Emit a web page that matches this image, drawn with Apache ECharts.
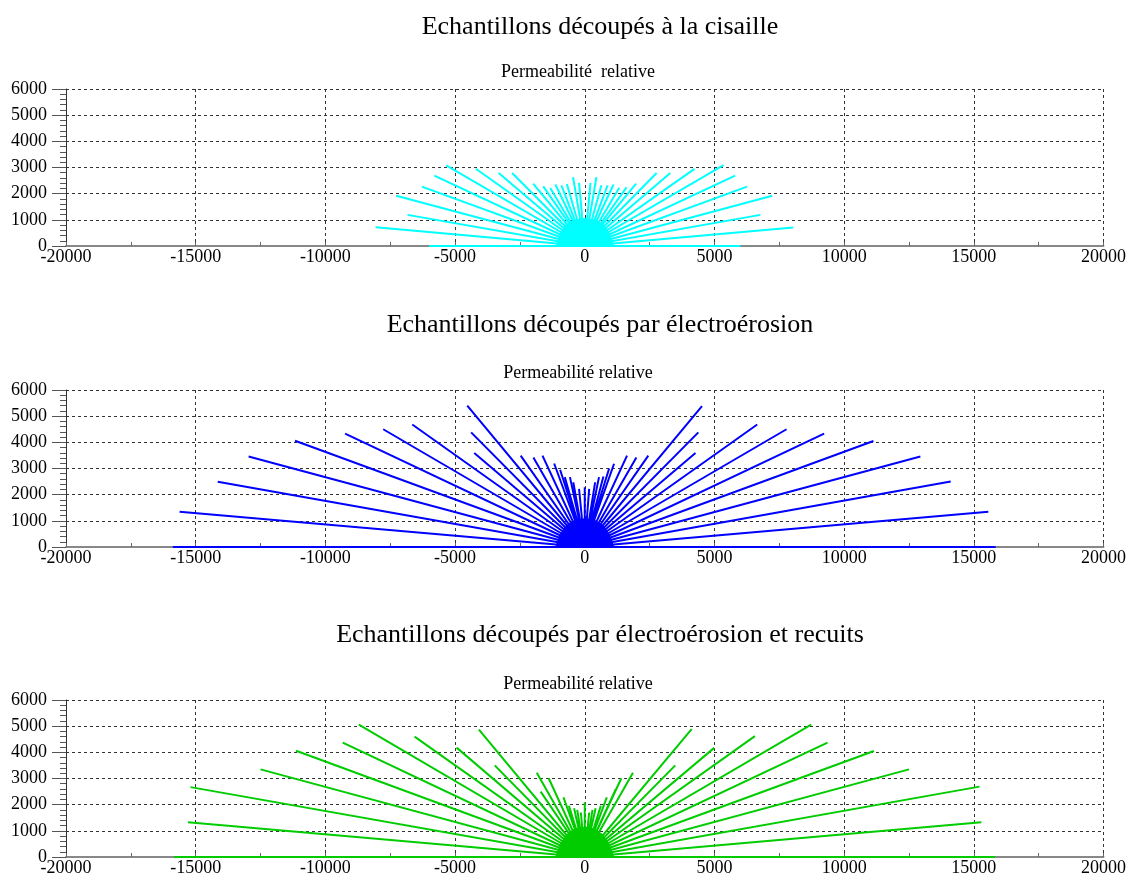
<!DOCTYPE html>
<html>
<head>
<meta charset="utf-8">
<script src="https://cdn.jsdelivr.net/npm/echarts@6/dist/echarts.min.js"></script>
<style>html,body{margin:0;padding:0;background:#fff}#c{width:1129px;height:877px}</style>
</head>
<body>
<div id="c"></div>
<script>
// ---------- texts ----------
const titles = [
  'Echantillons découpés à la cisaille',
  'Echantillons découpés par électroérosion',
  'Echantillons découpés par électroérosion et recuits'
];
const subtitles = ['Permeabilité  relative', 'Permeabilité relative', 'Permeabilité relative'];
const xTickValues = [-20000, -15000, -10000, -5000, 0, 5000, 10000, 15000, 20000];
const yTickValues = [0, 1000, 2000, 3000, 4000, 5000, 6000];

// ---------- panel 1 : cisaille (ray end points) ----------
const cisRightX = [6000, 8040, 6770, 7230, 6260, 5800, 5350, 4230, 3300, 2770, 1980, 1610, 1330, 1110, 880, 640, 450, 220];
const cisRightY = [0, 710, 1190, 1920, 2270, 2690, 3090, 2950, 2790, 2790, 2380, 2240, 2230, 2350, 2320, 2320, 2630, 2410];
const cisLeftX = [-6000, -8060, -6830, -7270, -6280, -5800, -5340, -4200, -3320, -2800, -1990, -1600, -1330, -1130, -900, -690, -450, -220];
const cisLeftY = [0, 720, 1190, 1920, 2270, 2690, 3080, 2950, 2790, 2790, 2380, 2280, 2220, 2350, 2320, 2370, 2630, 2410];
const cisCoreX = [-1100, -950, -750, -450, 0, 450, 750, 950, 1120];
const cisCoreY = [0, 450, 780, 980, 1050, 980, 780, 450, 0];

// ---------- panel 2 : électroérosion ----------
const eroRightX = [15840, 15560, 14110, 12940, 11130, 9230, 7780, 6650, 4520, 4380, 4270, 2450, 1990, 1630, 1130, 940, 720, 550, 400, 170, 0];
const eroRightY = [0, 1350, 2500, 3460, 4050, 4330, 4500, 4680, 5380, 4380, 3590, 3490, 3420, 3490, 3180, 3000, 2690, 2670, 2470, 2220, 2280];
const eroLeftX = [-15880, -15620, -14150, -12960, -11170, -9240, -7770, -6650, -4530, -4380, -4260, -2470, -1980, -1630, -1180, -950, -770, -570, -440, -220];
const eroLeftY = [0, 1350, 2490, 3460, 4060, 4330, 4500, 4680, 5400, 4380, 3590, 3490, 3420, 3490, 3190, 2950, 2670, 2670, 2470, 2220];
const eroCoreX = [-1120, -930, -700, -400, 0, 400, 700, 930, 1120];
const eroCoreY = [0, 500, 820, 1010, 1080, 1010, 820, 500, 0];

// ---------- panel 3 : électroérosion et recuits ----------
const recRightX = [15810, 15290, 15220, 12500, 11150, 9360, 8730, 6560, 4990, 4120, 3490, 1860, 1410, 1200, 850, 620, 420, 300, 170, 0];
const recRightY = [0, 1330, 2690, 3350, 4050, 4370, 5060, 4620, 4170, 4890, 3500, 3220, 3010, 2600, 2280, 1960, 1860, 1800, 1700, 2090];
const recLeftX = [-15830, -15300, -15200, -12500, -11130, -9330, -8710, -6560, -4940, -4080, -3470, -1850, -1390, -1700, -820, -610, -410, -290, -150];
const recLeftY = [0, 1330, 2670, 3350, 4060, 4370, 5060, 4600, 4180, 4870, 3500, 3220, 3010, 2500, 2280, 1960, 1860, 1800, 1700];
const recCoreX = [-1120, -930, -700, -400, 0, 400, 700, 930, 1120];
const recCoreY = [0, 500, 850, 1060, 1140, 1060, 850, 500, 0];

const colors = ['#00FFFF', '#0000FF', '#00CC00'];

// ---------- build ----------
function rays(xs1, ys1, xs2, ys2) {
  const d = [];
  for (let i = 0; i < xs1.length; i++) { d.push([0, 0]); d.push([xs1[i], ys1[i]]); }
  for (let i = 0; i < xs2.length; i++) { d.push([0, 0]); d.push([xs2[i], ys2[i]]); }
  d.push([0, 0]);
  return d;
}
function zip(xs, ys) { return xs.map((x, i) => [x, ys[i]]); }

const panels = [
  { ray: rays(cisRightX, cisRightY, cisLeftX, cisLeftY), core: zip(cisCoreX, cisCoreY) },
  { ray: rays(eroRightX, eroRightY, eroLeftX, eroLeftY), core: zip(eroCoreX, eroCoreY) },
  { ray: rays(recRightX, recRightY, recLeftX, recLeftY), core: zip(recCoreX, recCoreY) }
];

const gridTops = [89, 390, 700];
const gridH = 157;
const titleY = [27, 325, 635];
const subY = [72, 373, 684];
const FONT = '"Liberation Serif", "Times New Roman", serif';

const grids = [], xAxes = [], yAxes = [], series = [], graphics = [];
for (let p = 0; p < 3; p++) {
  grids.push({ left: 66, width: 1038, top: gridTops[p], height: gridH, containLabel: false });
  xAxes.push({
    type: 'value', gridIndex: p, min: xTickValues[0], max: xTickValues[xTickValues.length - 1], interval: 5000,
    axisLine: { show: true, onZero: false, lineStyle: { color: '#888', width: 2 } },
    axisTick: { show: true, inside: true, length: 4, lineStyle: { color: '#666' } },
    minorTick: { show: true, splitNumber: 2, length: 4, lineStyle: { color: '#666' } },
    splitLine: { show: true, lineStyle: { color: '#333', type: [3, 3], width: 1 } },
    axisLabel: { color: '#000', fontFamily: FONT, fontSize: 18, margin: 2, formatter: v => String(v) }
  });
  yAxes.push({
    type: 'value', gridIndex: p, min: yTickValues[0], max: yTickValues[yTickValues.length - 1], interval: 1000,
    axisLine: { show: true, onZero: false, lineStyle: { color: '#333', width: 1 } },
    axisTick: { show: true, inside: false, length: 14, lineStyle: { color: '#555' } },
    minorTick: { show: true, splitNumber: 5, length: 6, lineStyle: { color: '#555' } },
    splitLine: { show: true, lineStyle: { color: '#333', type: [3, 3], width: 1 } },
    axisLabel: { color: '#000', fontFamily: FONT, fontSize: 18, margin: 19, formatter: v => String(v) }
  });
  series.push({
    type: 'line', xAxisIndex: p, yAxisIndex: p, data: panels[p].ray, showSymbol: false, symbol: 'none',
    lineStyle: { color: colors[p], width: 2 }, itemStyle: { color: colors[p] }, animation: false, silent: true, z: 3
  });
  series.push({
    type: 'line', xAxisIndex: p, yAxisIndex: p, data: panels[p].core, showSymbol: false, symbol: 'none', smooth: false,
    lineStyle: { color: colors[p], width: 1 }, areaStyle: { color: colors[p], opacity: 1 }, itemStyle: { color: colors[p] },
    animation: false, silent: true, z: 3
  });
  graphics.push({
    type: 'text', x: 600, y: titleY[p],
    style: { text: titles[p], font: '26px ' + FONT, fill: '#000', textAlign: 'center', textVerticalAlign: 'middle', align: 'center', verticalAlign: 'middle' }
  });
  graphics.push({
    type: 'text', x: 578, y: subY[p],
    style: { text: subtitles[p], font: '18px ' + FONT, fill: '#000', textAlign: 'center', textVerticalAlign: 'middle', align: 'center', verticalAlign: 'middle' }
  });
}

const chart = echarts.init(document.getElementById('c'), null, { renderer: 'canvas' });
chart.setOption({
  backgroundColor: '#fff',
  animation: false,
  grid: grids, xAxis: xAxes, yAxis: yAxes, series: series, graphic: graphics
});
</script>
</body>
</html>
